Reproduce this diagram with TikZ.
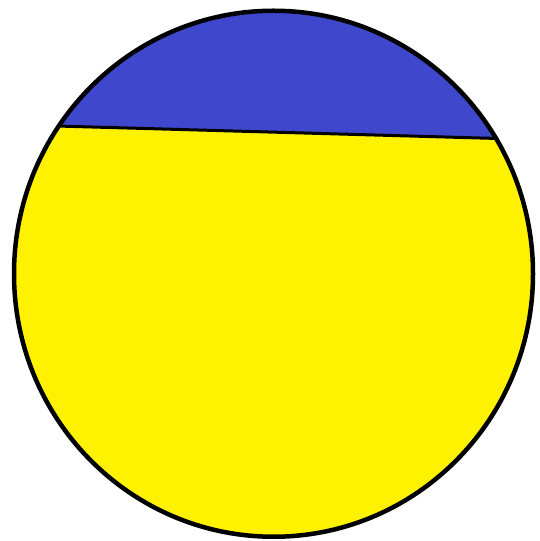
\documentclass[tikz,border=0pt]{standalone}
\definecolor{paintblue}{HTML}{3F48CC}
\definecolor{paintyellow}{HTML}{FFF200}
\begin{document}
\begin{tikzpicture}[x=1pt,y=1pt]
\useasboundingbox (0,0) rectangle (540,541);
\coordinate (c) at (273.5,267.25);
\fill[paintyellow] (c) ellipse [x radius=259.5, y radius=263];
\begin{scope}
\clip (c) ellipse [x radius=259.5, y radius=263];
\fill[paintblue] (0,416.6) -- (540,401.3) -- (540,541) -- (0,541) -- cycle;
\draw[line width=3pt] (0,416.6) -- (540,401.3);
\end{scope}
\draw[line width=4.5pt] (c) ellipse [x radius=259.5, y radius=263];
\end{tikzpicture}
\end{document}
